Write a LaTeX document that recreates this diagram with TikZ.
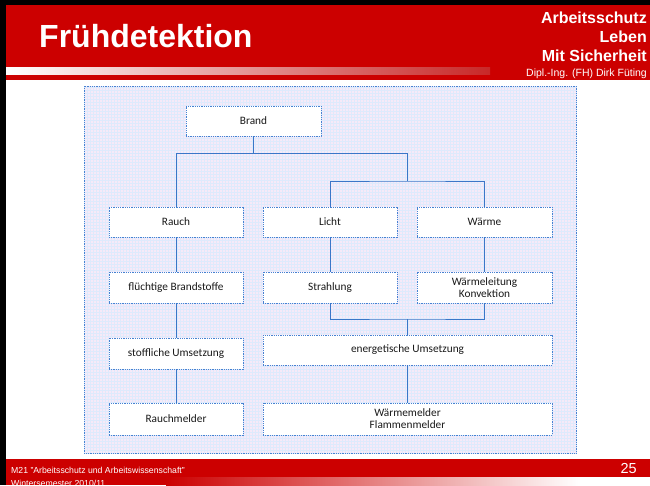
\documentclass[tikz,border=0pt]{standalone}
\usepackage{fontspec}
\setmainfont{Liberation Sans}
\newfontfamily\carlito{Carlito}
\definecolor{hdrred}{RGB}{204,0,0}
\definecolor{boxblue}{RGB}{70,130,210}
\definecolor{linkblue}{RGB}{58,118,200}
\definecolor{panelbg}{RGB}{246,234,248}
\definecolor{panelgrid}{RGB}{222,234,252}
\definecolor{txtdark}{RGB}{25,25,25}
\begin{document}
\begin{tikzpicture}[x=1pt,y=-1pt,
  box/.style={draw=boxblue, line width=0.7pt, dash pattern=on 1pt off 0.8pt, fill=white,
    minimum width=134pt, minimum height=30pt, inner sep=0pt, align=center,
    font=\carlito\fontsize{11.3}{12}\selectfont, text=txtdark},
  link/.style={draw=linkblue, line width=0.8pt},
  hdrbig/.style={text=white, font=\bfseries\fontsize{16}{18}\selectfont, anchor=base east, inner sep=0pt},
  foot/.style={text=white, font=\fontsize{8.7}{10}\selectfont, anchor=base west, inner sep=0pt}]
\useasboundingbox (0,0) rectangle (650,485);
\clip (0,0) rectangle (650,485);
% frame and header
\fill[black] (0,0) rectangle (650,485);
\fill[white] (6,4.5) rectangle (650,485);
\fill[hdrred] (6,4.5) rectangle (650,80);
\shade[left color=white, right color={rgb,255:red,200;green,40;blue,40}] (6,67) rectangle (490,74);
\fill[hdrred] (6,459) rectangle (650,477);
\fill[hdrred] (6,477) rectangle (166,485);
\shade[left color=hdrred, right color=white] (166,477) rectangle (580,485);
\node[text=white, font=\bfseries\fontsize{32}{36}\selectfont, anchor=base west, inner sep=0pt] (title) at (39,47) {Frühdetektion};
\node[hdrbig] (h1) at (647,23.5) {Arbeitsschutz};
\node[hdrbig] (h2) at (647,42.5) {Leben};
\node[hdrbig] (h3) at (647,61) {Mit Sicherheit};
\node[text=white, font=\fontsize{10.5}{12}\selectfont, anchor=base east, inner sep=0pt] (h4) at (647,76) {Dipl.-Ing. (FH) Dirk Füting};
\node[foot] (f1) at (11,473) {M21 "Arbeitsschutz und Arbeitswissenschaft"};
\node[foot] (f2) at (11,486.5) {Wintersemester 2010/11};
\node[text=white, font=\fontsize{14.5}{16}\selectfont, anchor=base east, inner sep=0pt] (pg) at (637,473) {25};
% panel
\fill[panelbg] (84,86) rectangle (576.5,453);
\draw[panelgrid, line width=0.45pt, step=3pt] (84,86) grid (576.5,453);
\draw[boxblue, line width=0.7pt, dash pattern=on 1pt off 0.8pt] (84,86) rectangle (576.5,453);
% boxes
\node[box, minimum width=135pt] (brand) at (253.5,121) {Brand};
\node[box] (rauch) at (176,222) {Rauch};
\node[box] (licht) at (330,222) {Licht};
\node[box, minimum width=135pt] (waerme) at (484.5,222) {Wärme};
\node[box, minimum height=31pt] (fluecht) at (176,287.5) {flüchtige Brandstoffe};
\node[box, minimum height=31pt] (strahl) at (330,287.5) {Strahlung};
\node[box, minimum width=135pt, minimum height=31pt] (wleit) at (484.5,287.5) {Wärmeleitung\\Konvektion};
\node[box, minimum height=31pt] (stoff) at (176,353.5) {stoffliche Umsetzung};
\node[box, minimum width=289pt] (energ) at (407.5,350) {energetische Umsetzung};
\node[box, minimum height=32pt] (rmelder) at (176,419) {Rauchmelder};
\node[box, minimum width=289pt, minimum height=32pt] (wmelder) at (407.5,419) {Wärmemelder\\Flammenmelder};
% connectors
\coordinate (j1) at (253.5,153);
\coordinate (j2) at (407.5,153);
\coordinate (j3) at (407.5,181);
\coordinate (j4) at (407.5,319);
\draw[link] (brand.south) -- (j1);
\draw[link] (rauch.north) |- (j2) -- (j3);
\draw[link] (licht.north) |- (j3) -| (waerme.north);
\draw[link] (rauch.south) -- (fluecht.north);
\draw[link] (licht.south) -- (strahl.north);
\draw[link] (waerme.south) -- (wleit.north);
\draw[link] (fluecht.south) -- (stoff.north);
\draw[link] (stoff.south) -- (rmelder.north);
\draw[link] (strahl.south) |- (j4) -| (wleit.south);
\draw[link] (j4) -- (energ.north);
\draw[link] (energ.south) -- (wmelder.north);
\end{tikzpicture}
\end{document}
